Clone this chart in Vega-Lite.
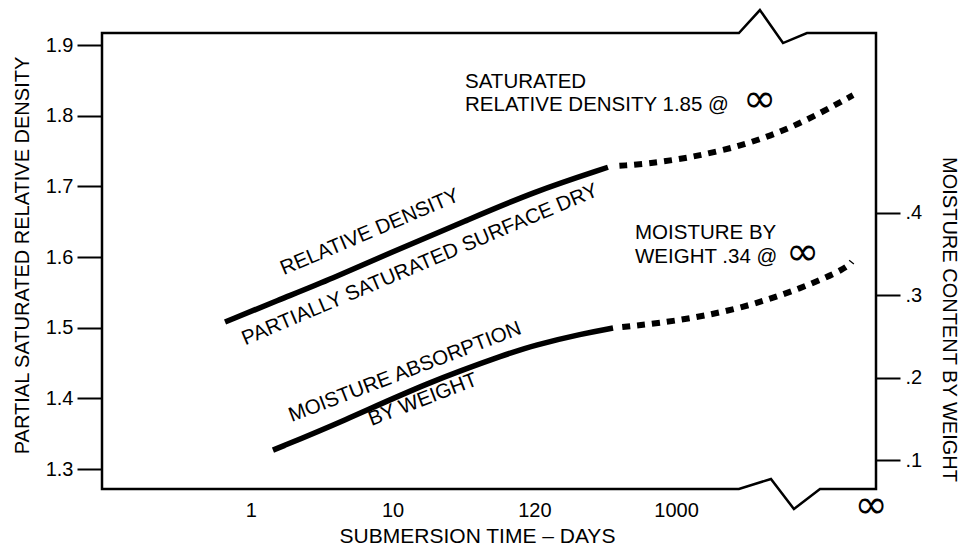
{
  "$schema": "https://vega.github.io/schema/vega-lite/v6.json",
  "width": 774,
  "height": 456,
  "autosize": {"type": "none"},
  "padding": {"left": 102, "top": 33, "right": 88, "bottom": 59},
  "background": "white",
  "config": {
    "view": {"stroke": null},
    "font": "Liberation Sans",
    "axis": {
      "grid": false,
      "domain": false,
      "labelFont": "Liberation Sans",
      "labelFontSize": 20,
      "labelColor": "#000",
      "titleFont": "Liberation Sans",
      "titleFontSize": 20,
      "titleFontWeight": "normal",
      "titleColor": "#000",
      "tickColor": "#000",
      "tickWidth": 2,
      "labelOverlap": false,
      "labelBound": false,
      "labelFlush": false
    }
  },
  "datasets": {
    "frame": [
      {"i": 0, "u": 2.0, "v": 1.2717},
      {"i": 1, "u": -0.05, "v": 1.2717},
      {"i": 2, "u": -0.05, "v": 1.917},
      {"i": 3, "u": 4.443, "v": 1.917},
      {"i": 4, "u": 4.591, "v": 1.9495},
      {"i": 5, "u": 4.754, "v": 1.9028},
      {"i": 6, "u": 4.923, "v": 1.917},
      {"i": 7, "u": 5.41, "v": 1.917},
      {"i": 8, "u": 5.41, "v": 1.2717},
      {"i": 9, "u": 5.015, "v": 1.2717},
      {"i": 10, "u": 4.831, "v": 1.2434},
      {"i": 11, "u": 4.669, "v": 1.2859},
      {"i": 12, "u": 4.443, "v": 1.2717},
      {"i": 13, "u": 2.0, "v": 1.2717}
    ],
    "xticks": [{"u": 1}, {"u": 2}, {"u": 3}, {"u": 4}],
    "density": [
      {"part": "solid", "u": 0.818, "v": 1.508},
      {"part": "solid", "u": 1.206, "v": 1.54},
      {"part": "solid", "u": 1.58, "v": 1.57},
      {"part": "solid", "u": 1.96, "v": 1.604},
      {"part": "solid", "u": 2.525, "v": 1.652},
      {"part": "solid", "u": 2.99, "v": 1.692},
      {"part": "solid", "u": 3.519, "v": 1.727},
      {"part": "dashed", "u": 3.6, "v": 1.729},
      {"part": "dashed", "u": 3.865, "v": 1.733},
      {"part": "dashed", "u": 4.331, "v": 1.749},
      {"part": "dashed", "u": 4.803, "v": 1.78},
      {"part": "dashed", "u": 5.248, "v": 1.829}
    ],
    "moisture": [
      {"part": "solid", "u": 1.156, "w": 0.112},
      {"part": "solid", "u": 1.65, "w": 0.147},
      {"part": "solid", "u": 2.243, "w": 0.194},
      {"part": "solid", "u": 2.828, "w": 0.23},
      {"part": "solid", "u": 2.99, "w": 0.239},
      {"part": "solid", "u": 3.343, "w": 0.2535},
      {"part": "solid", "u": 3.555, "w": 0.2603},
      {"part": "dashed", "u": 3.62, "w": 0.2615},
      {"part": "dashed", "u": 3.957, "w": 0.2676},
      {"part": "dashed", "u": 4.429, "w": 0.2822},
      {"part": "dashed", "u": 4.895, "w": 0.3089},
      {"part": "dashed", "u": 5.205, "w": 0.3332},
      {"part": "dashed", "u": 5.24, "w": 0.341}
    ],
    "annot23": [
      {"u": 1.84, "v": 1.635, "label": "RELATIVE DENSITY"},
      {"u": 2.193, "v": 1.589, "label": "PARTIALLY SATURATED SURFACE DRY"}
    ],
    "annot21": [
      {"u": 2.087, "v": 1.437, "label": "MOISTURE ABSORPTION"},
      {"u": 2.214, "v": 1.398, "label": "BY WEIGHT"}
    ],
    "annotFlat": [
      {"u": 2.511, "v": 1.848, "label": "SATURATED"},
      {"u": 2.511, "v": 1.8158, "label": "RELATIVE DENSITY 1.85 @"},
      {"u": 3.71, "v": 1.6333, "label": "MOISTURE BY"},
      {"u": 3.71, "v": 1.6007, "label": "WEIGHT .34 @"}
    ],
    "infinity": [
      {"u": 4.59, "v": 1.8215, "label": "∞"},
      {"u": 4.893, "v": 1.605, "label": "∞"},
      {"u": 5.375, "v": 1.2477, "label": "∞"}
    ]
  },
  "encoding": {
    "x": {
      "field": "u",
      "type": "quantitative",
      "scale": {"domain": [-0.05, 5.41], "nice": false, "zero": false},
      "axis": {
        "values": [1, 2, 3, 4],
        "labelExpr": "datum.value == 1 ? '1' : datum.value == 2 ? '10' : datum.value == 3 ? '120' : '1000'",
        "ticks": false,
        "tickSize": 0,
        "labelPadding": 11,
        "title": "SUBMERSION TIME – DAYS",
        "titleFontSize": 21,
        "titleX": 375,
        "titleY": 53,
        "titleBaseline": "alphabetic",
        "titleAlign": "center"
      }
    }
  },
  "layer": [
    {
      "encoding": {
        "y": {
          "field": "v",
          "type": "quantitative",
          "scale": {"domain": [1.2717, 1.917], "nice": false, "zero": false},
          "axis": {
            "orient": "left",
            "values": [1.3, 1.4, 1.5, 1.6, 1.7, 1.8, 1.9],
            "format": ".1f",
            "tickSize": 25,
            "labelPadding": 4,
            "title": "PARTIAL SATURATED RELATIVE DENSITY",
            "titleX": -80,
            "titleY": 222,
            "titleAngle": -90,
            "titleBaseline": "middle",
            "titleAlign": "center"
          }
        }
      },
      "layer": [
        {
          "data": {"name": "frame"},
          "mark": {"type": "line", "color": "#000", "strokeWidth": 2.5, "strokeJoin": "miter"},
          "encoding": {"order": {"field": "i", "type": "quantitative"}}
        },
        {
          "data": {"name": "xticks"},
          "mark": {"type": "rule", "color": "#000", "strokeWidth": 2},
          "encoding": {
            "y": {"datum": 1.2717, "type": "quantitative"},
            "y2": {"datum": 1.307}
          }
        },
        {
          "data": {"name": "density"},
          "transform": [{"filter": "datum.part == 'solid'"}],
          "mark": {"type": "line", "color": "#000", "strokeWidth": 5.5, "interpolate": "basis", "strokeCap": "butt"}
        },
        {
          "data": {"name": "density"},
          "transform": [{"filter": "datum.part == 'dashed'"}],
          "mark": {"type": "line", "color": "#000", "strokeWidth": 6, "interpolate": "basis", "strokeDash": [8, 7], "strokeCap": "butt"}
        },
        {
          "data": {"name": "annot23"},
          "mark": {"type": "text", "angle": -23, "align": "center", "baseline": "middle", "fontSize": 20.5, "font": "Liberation Sans", "color": "#000"},
          "encoding": {"text": {"field": "label"}}
        },
        {
          "data": {"name": "annot21"},
          "mark": {"type": "text", "angle": -21, "align": "center", "baseline": "middle", "fontSize": 20.5, "font": "Liberation Sans", "color": "#000"},
          "encoding": {"text": {"field": "label"}}
        },
        {
          "data": {"name": "annotFlat"},
          "mark": {"type": "text", "align": "left", "baseline": "middle", "fontSize": 20.5, "font": "Liberation Sans", "color": "#000"},
          "encoding": {"text": {"field": "label"}}
        },
        {
          "data": {"name": "infinity"},
          "mark": {"type": "text", "align": "center", "baseline": "middle", "fontSize": 40, "font": "DejaVu Sans", "color": "#000"},
          "encoding": {"text": {"field": "label"}}
        }
      ]
    },
    {
      "data": {"name": "moisture"},
      "encoding": {
        "y": {
          "field": "w",
          "type": "quantitative",
          "scale": {"domain": [0.0648, 0.6186], "nice": false, "zero": false},
          "axis": {
            "orient": "right",
            "values": [0.1, 0.2, 0.3, 0.4],
            "labelExpr": "substring(format(datum.value, '.1f'), 1)",
            "tickSize": 24,
            "labelPadding": 5,
            "title": "MOISTURE CONTENT BY WEIGHT",
            "titleX": 72,
            "titleY": 286,
            "titleAngle": 90,
            "titleBaseline": "middle",
            "titleAlign": "center"
          }
        }
      },
      "layer": [
        {
          "transform": [{"filter": "datum.part == 'solid'"}],
          "mark": {"type": "line", "color": "#000", "strokeWidth": 5.5, "interpolate": "basis", "strokeCap": "butt"}
        },
        {
          "transform": [{"filter": "datum.part == 'dashed'"}],
          "mark": {"type": "line", "color": "#000", "strokeWidth": 6, "interpolate": "basis", "strokeDash": [8, 7], "strokeCap": "butt"}
        }
      ]
    }
  ],
  "resolve": {"scale": {"y": "independent"}}
}
